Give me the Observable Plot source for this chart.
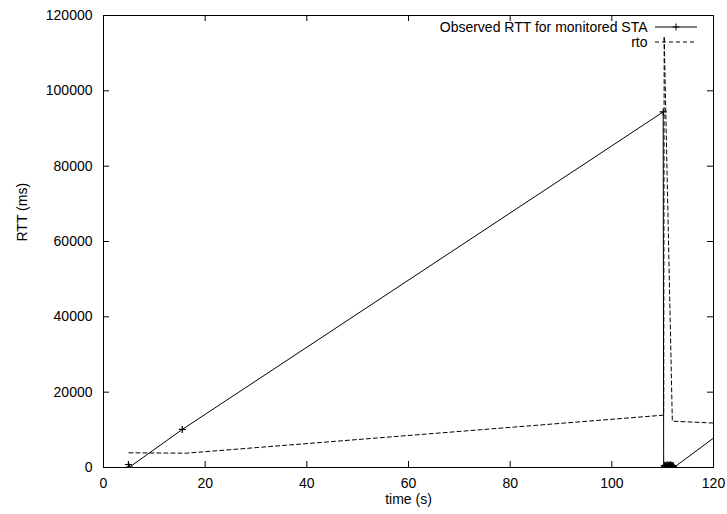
<!DOCTYPE html>
<html><head><meta charset="utf-8">
<script src="https://cdn.jsdelivr.net/npm/d3@7"></script>
<script src="https://cdn.jsdelivr.net/npm/@observablehq/plot@0.6"></script>
<style>
html,body{margin:0;padding:0;background:#fff;}
#chart{width:727px;height:514px;}
</style></head><body><div id="chart"></div>
<script>
// Observed RTT for monitored STA (solid line with + points)
const rttTime  = [4.9, 5.1, 15.5, 110.1, 110.2, 110.3, 110.4, 110.5, 110.6, 110.7, 110.8, 110.9, 111.0, 111.1, 111.2, 111.3, 111.4, 111.5, 111.6, 111.7, 111.8, 111.9, 112.0, 112.1, 112.2, 121];
const rttValue = [800, 80, 10100, 94400, 0, 500, 200, 600, 100, 400, 300, 700, 100, 500, 200, 600, 300, 700, 100, 400, 600, 200, 500, 300, 0, 8800];
// rto (dashed line)
const rtoTime  = [5.0, 16.3, 110.2, 110.3, 111.9, 120];
const rtoValue = [3900, 3800, 13900, 114500, 12300, 11800];
// axes
const xTicks = [0, 20, 40, 60, 80, 100, 120];
const yTicks = [0, 20000, 40000, 60000, 80000, 100000, 120000];
const seriesNames = ["Observed RTT for monitored STA", "rto"];

const W = 727, H = 514, mL = 103, mR = 14, mT = 15, mB = 47;
const plotW = W - mL - mR, plotH = H - mT - mB, tick = 6;

const rtt = rttTime.map((t, i) => ({t, v: rttValue[i]}));
const rto = rtoTime.map((t, i) => ({t, v: rtoValue[i]}));

const plus = {draw(ctx) { const r = 3.5; ctx.moveTo(-r, 0); ctx.lineTo(r, 0); ctx.moveTo(0, -r); ctx.lineTo(0, r); }};

const plot = Plot.plot({
  width: W, height: H,
  marginLeft: mL, marginRight: mR, marginTop: mT, marginBottom: mB,
  style: {fontFamily: "'Liberation Sans', Arial, sans-serif", fontSize: "14px", color: "#000", background: "#fff"},
  x: {domain: [0, 120]},
  y: {domain: [0, 120000]},
  marks: [
    Plot.axisX(xTicks, {tickSize: 0, tickPadding: 11, tickFormat: d => String(d), label: null}),
    Plot.axisY(yTicks, {tickSize: 0, tickPadding: 11, tickFormat: d => String(d), label: null}),
    Plot.ruleX(xTicks, {x: d => d, insetTop: plotH - tick, stroke: "#000"}),
    Plot.ruleX(xTicks, {x: d => d, insetBottom: plotH - tick, stroke: "#000"}),
    Plot.ruleY(yTicks, {y: d => d, insetRight: plotW - tick, stroke: "#000"}),
    Plot.ruleY(yTicks, {y: d => d, insetLeft: plotW - tick, stroke: "#000"}),
    Plot.line(rto, {x: "t", y: "v", stroke: "#000", strokeWidth: 1, strokeDasharray: "4,3", clip: true}),
    Plot.line(rtt, {x: "t", y: "v", stroke: "#000", strokeWidth: 1, clip: true}),
    Plot.dot(rtt, {x: "t", y: "v", symbol: plus, stroke: "#000", strokeWidth: 1.2, fill: "none", clip: true}),
    Plot.frame({stroke: "#000", strokeWidth: 1}),
    Plot.text(["time (s)"], {frameAnchor: "bottom", dy: 32, lineAnchor: "middle"}),
    Plot.text(["RTT (ms)"], {frameAnchor: "left", dx: -81, rotate: -90, lineAnchor: "middle"}),
    Plot.text([seriesNames[0]], {frameAnchor: "top-right", dx: -66, dy: 12, textAnchor: "end", lineAnchor: "middle"}),
    Plot.text([seriesNames[1]], {frameAnchor: "top-right", dx: -66, dy: 27, textAnchor: "end", lineAnchor: "middle"})
  ]
});

// legend samples
const svg = d3.select(plot);
const right = W - mR;
const g = svg.append("g").attr("stroke", "#000").attr("fill", "none").attr("stroke-width", 1);
g.append("line").attr("x1", right - 58).attr("x2", right - 16).attr("y1", mT + 12).attr("y2", mT + 12);
g.append("path").attr("d", `M${right - 37 - 3.5},${mT + 12}h7M${right - 37},${mT + 12 - 3.5}v7`);
g.append("line").attr("x1", right - 58).attr("x2", right - 16).attr("y1", mT + 27).attr("y2", mT + 27).attr("stroke-dasharray", "4,3");

document.getElementById("chart").appendChild(plot);
</script>
</body></html>
